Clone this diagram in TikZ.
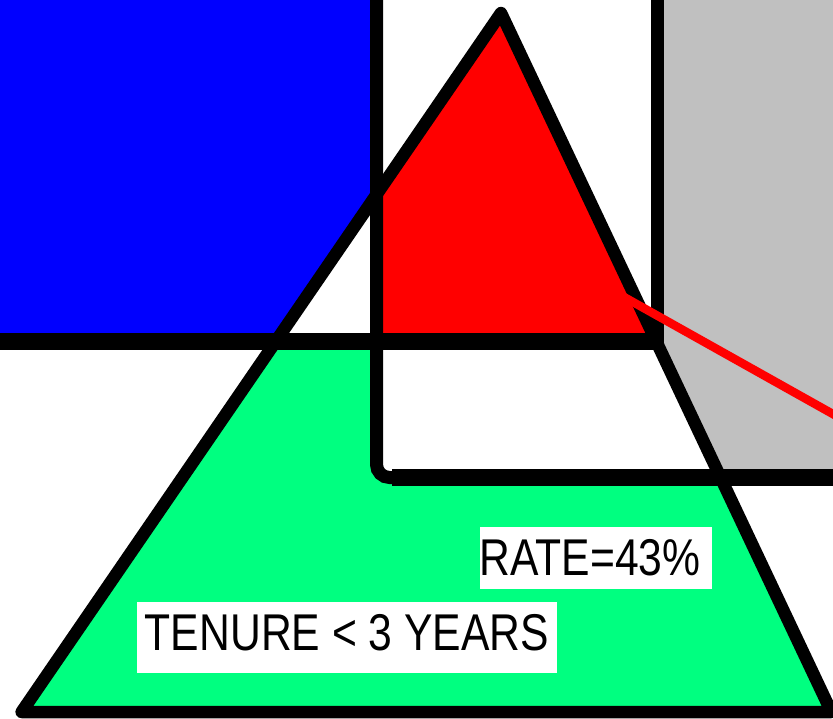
\documentclass[tikz,border=0pt]{standalone}
\usepackage{fontspec}
\setmainfont{Liberation Sans}
\definecolor{pblue}{RGB}{0,0,255}
\definecolor{pred}{RGB}{255,0,0}
\definecolor{pgreen}{RGB}{0,255,128}
\definecolor{pgray}{RGB}{192,192,192}
\tikzset{
  edgeline/.style={draw=black, line width=12.5pt, line join=round},
  vline/.style={draw=black, line width=13pt},
  hline/.style={draw=black, line width=17pt},
  redline/.style={draw=pred, line width=8.5pt},
  textbox/.style={fill=white, draw=none, inner sep=0pt, anchor=north west},
  lbl/.style={inner sep=0pt, anchor=base west, font=\fontsize{51.7}{52}\selectfont}
}
\begin{document}
\begin{tikzpicture}[x=1pt,y=-1pt]
\useasboundingbox (0,0) rectangle (833,718);
\clip (0,0) rectangle (833,718);
\fill[white] (0,0) rectangle (833,718);
% points
\coordinate (apex) at (501,13);
\coordinate (bl) at (21.6,712);
\coordinate (br) at (831.4,712);
% background panels
\fill[pblue] (0,0) rectangle (376.5,341.5);
\fill[pgray] (657.5,0) rectangle (833,477.5);
% triangle interior
\fill[white] (apex) -- (bl) -- (br) -- cycle;
\begin{scope}
  \clip (376.5,0) rectangle (657.5,341.5);
  \fill[pred] (apex) -- (bl) -- (br) -- cycle;
\end{scope}
\begin{scope}
  \clip (apex) -- (bl) -- (br) -- cycle;
  \fill[pgreen] (0,341.5) rectangle (833,718);
  \fill[white, rounded corners=12pt] (376.5,341.5) -- (376.5,477.5) -- (900,477.5) -- (900,341.5) -- cycle;
\end{scope}
% triangle outline
\draw[edgeline] (apex) -- (bl) -- (br) -- cycle;
% black grid lines
\coordinate (h1a) at (0,341.5);
\coordinate (h1b) at (664,341.5);
\coordinate (v2a) at (657.5,0);
\coordinate (v2b) at (657.5,350);
\coordinate (v1a) at (376.5,0);
\coordinate (v1c) at (376.5,477.5);
\coordinate (h2b) at (833,477.5);
\draw[hline] (h1a) -- (h1b);
\draw[vline] (v2a) -- (v2b);
\draw[vline, rounded corners=13pt] (v1a) -- (v1c) -- (h2b);
\draw[hline] (392,477.5) -- (h2b);
% red line
\coordinate (ra) at (624,297);
\coordinate (rb) at (840,418);
\draw[redline] (ra) -- (rb);
% labels
\node[textbox, minimum width=232pt, minimum height=62pt] (ratebox) at (480,527) {};
\node[lbl] (rate) at (479.3,575) {\scalebox{0.825}[1]{RATE=43\%}};
\node[textbox, minimum width=420pt, minimum height=71pt] (tenurebox) at (137,602) {};
\node[lbl] (tenure) at (144.7,650) {\scalebox{0.825}[1]{TENURE < 3 YEARS}};
\end{tikzpicture}
\end{document}
